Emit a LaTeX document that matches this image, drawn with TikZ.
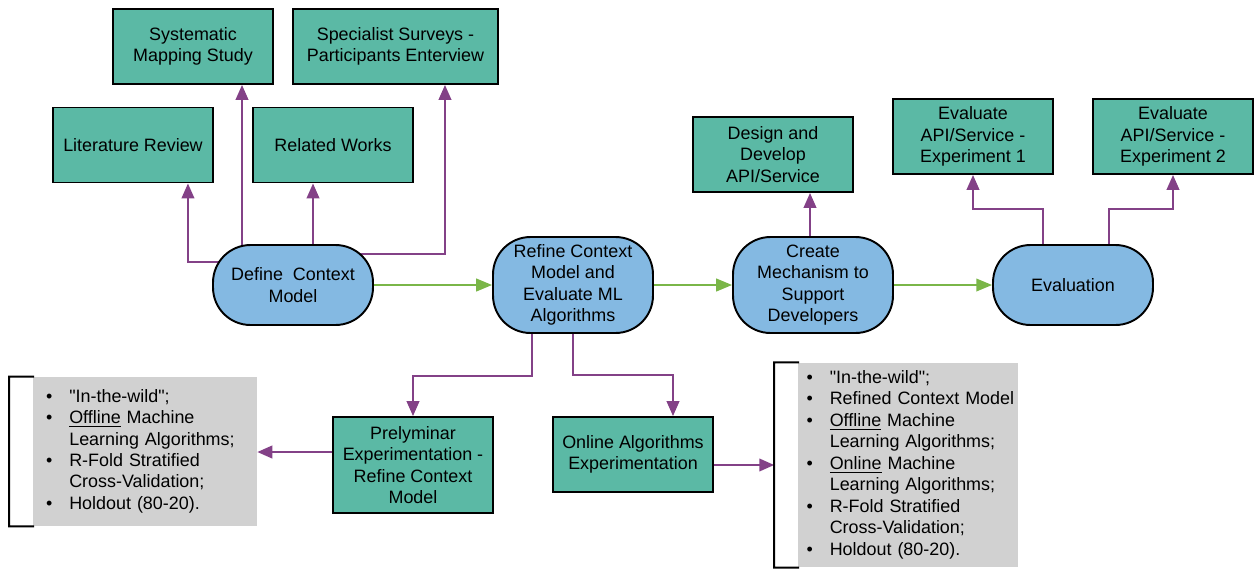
\documentclass[tikz,border=0pt]{standalone}
\usepackage{fontspec}
\setmainfont{Liberation Sans}[Ligatures=TeXOff]
\usepackage{tikz}
\usetikzlibrary{arrows.meta}
\usetikzlibrary{backgrounds}
\definecolor{taskgreen}{HTML}{5BB9A5}
\definecolor{stageblue}{HTML}{84B9E2}
\definecolor{notegray}{HTML}{D1D1D1}
\definecolor{linkpurple}{HTML}{834187}
\definecolor{flowgreen}{HTML}{7AB648}
\newcommand{\mainsize}{\fontsize{10.2}{12.2}\selectfont}
\newcommand{\notebracket}[1]{ \draw[line width=1.2pt] ([xshift=0.03cm]#1.north west) -- ++(-25,0) -- ([xshift=-0.47cm]#1.south west) -- ([xshift=0.03cm]#1.south west);}
\tikzset{
  task/.style={draw=black, line width=1.1pt, fill=taskgreen, align=center, font=\mainsize, inner sep=2pt, minimum width=3.2cm, minimum height=1.5cm},
  stage/.style={draw=black, line width=1.1pt, fill=stageblue, align=center, font=\mainsize, rounded corners=0.75cm, minimum width=3.2cm, minimum height=1.6cm},
  notes/.style={fill=notegray, font=\mainsize, align=left},
  link/.style={draw=linkpurple, line width=1.1pt, -{Triangle[length=8.5pt,width=7.2pt]}},
  flow/.style={draw=flowgreen, line width=1.1pt, -{Triangle[length=9pt,width=7.2pt]}}
}

\begin{document}
\begin{tikzpicture}[x=0.02cm, y=-0.02cm]
\useasboundingbox (0,0) rectangle (1254,569);
% main stages
\node[stage] (define) at (293,285) {Define\ \ Context\\Model};
\node[stage, minimum height=1.92cm] (refine) at (573,285) {Refine Context\\Model and\\Evaluate ML\\Algorithms};
\node[stage, minimum height=1.92cm] (create) at (813,285) {Create\\Mechanism to\\Support\\Developers};
\node[stage] (evaluation) at (1073,285) {Evaluation};
% tasks above the stages
\node[task] (sysmap) at (193,46.5) {Systematic\\Mapping Study};
\node[task, minimum width=4.1cm] (survey) at (395.5,46.5) {Specialist Surveys -\\Participants Enterview};
\node[task] (litrev) at (133,145) {Literature Review};
\node[task] (relwork) at (333,145) {Related Works};
\node[task] (design) at (773,154.5) {Design and\\Develop\\API/Service};
\node[task] (exp1) at (973,136.5) {Evaluate\\API/Service -\\Experiment 1};
\node[task] (exp2) at (1173,136.5) {Evaluate\\API/Service -\\Experiment 2};
% tasks below the stages
\node[task, minimum height=1.92cm] (prelim) at (413,465) {Prelyminar\\Experimentation -\\Refine Context\\Model};
\node[task] (onlexp) at (633,454.5) {Online Algorithms\\Experimentation};
% notes of the two experiments
\node[notes, minimum width=4.48cm, minimum height=2.98cm, inner xsep=0.26cm, text width=3.96cm] (notesA) at (145,451.5) {%
\begin{tabular}{@{}l@{\hspace{0.34cm}}l@{}}
\textbullet & "In-the-wild";\\
\textbullet & \underline{Offline} Machine\\
 & Learning Algorithms;\\
\textbullet & R-Fold Stratified\\
 & Cross-Validation;\\
\textbullet & Holdout (80-20).
\end{tabular}};
\notebracket{notesA}
\node[notes, minimum width=4.4cm, minimum height=4.08cm, inner xsep=0.17cm, text width=4.06cm] (notesB) at (908,465) {%
\begin{tabular}{@{}l@{\hspace{0.34cm}}l@{}}
\textbullet & "In-the-wild";\\
\textbullet & Refined Context Model\\
\textbullet & \underline{Offline} Machine\\
 & Learning Algorithms;\\
\textbullet & \underline{Online} Machine\\
 & Learning Algorithms;\\
\textbullet & R-Fold Stratified\\
 & Cross-Validation;\\
\textbullet & Holdout (80-20).
\end{tabular}};
\notebracket{notesB}
\coordinate (notesBbr) at ([xshift=-0.47cm]notesB.west);
\begin{scope}[on background layer]
% flow between stages
\draw[flow] (define.east) -- (refine.west);
\draw[flow] (refine.east) -- (create.west);
\draw[flow] (create.east) -- (evaluation.west);
% links from define context model
\draw[link] (define.center |- 0,262) -| ([xshift=-0.52cm]litrev.south east);
\draw[link] (define.center -| 242,0) -- (sysmap.south -| 242,0);
\draw[link] (define.center -| 313,0) -- (relwork.south -| 313,0);
\draw[link] (define.center |- 0,254) -| ([xshift=0.99cm]survey.south);
% links from refine, create and evaluation
\draw[link] (refine.center -| 532,0) -- ++(0,91) -| (prelim.north);
\draw[link] (refine.center) -- ++(0,90) -| ([xshift=0.8cm]onlexp.north);
\draw[link] (create.center -| 810,0) -- (design.south -| 810,0);
\draw[link] (evaluation.center -| 1043,0) -- ++(0,-76) -| (exp1.south);
\draw[link] (evaluation.center -| 1109,0) -- ++(0,-76) -| (exp2.south);
% links to the notes
\draw[link] (prelim.west |- 0,452) -- (notesA.east |- 0,452);
\draw[link] (onlexp.east |- 0,465) -- (notesBbr |- 0,465);
\end{scope}
\end{tikzpicture}
\end{document}
